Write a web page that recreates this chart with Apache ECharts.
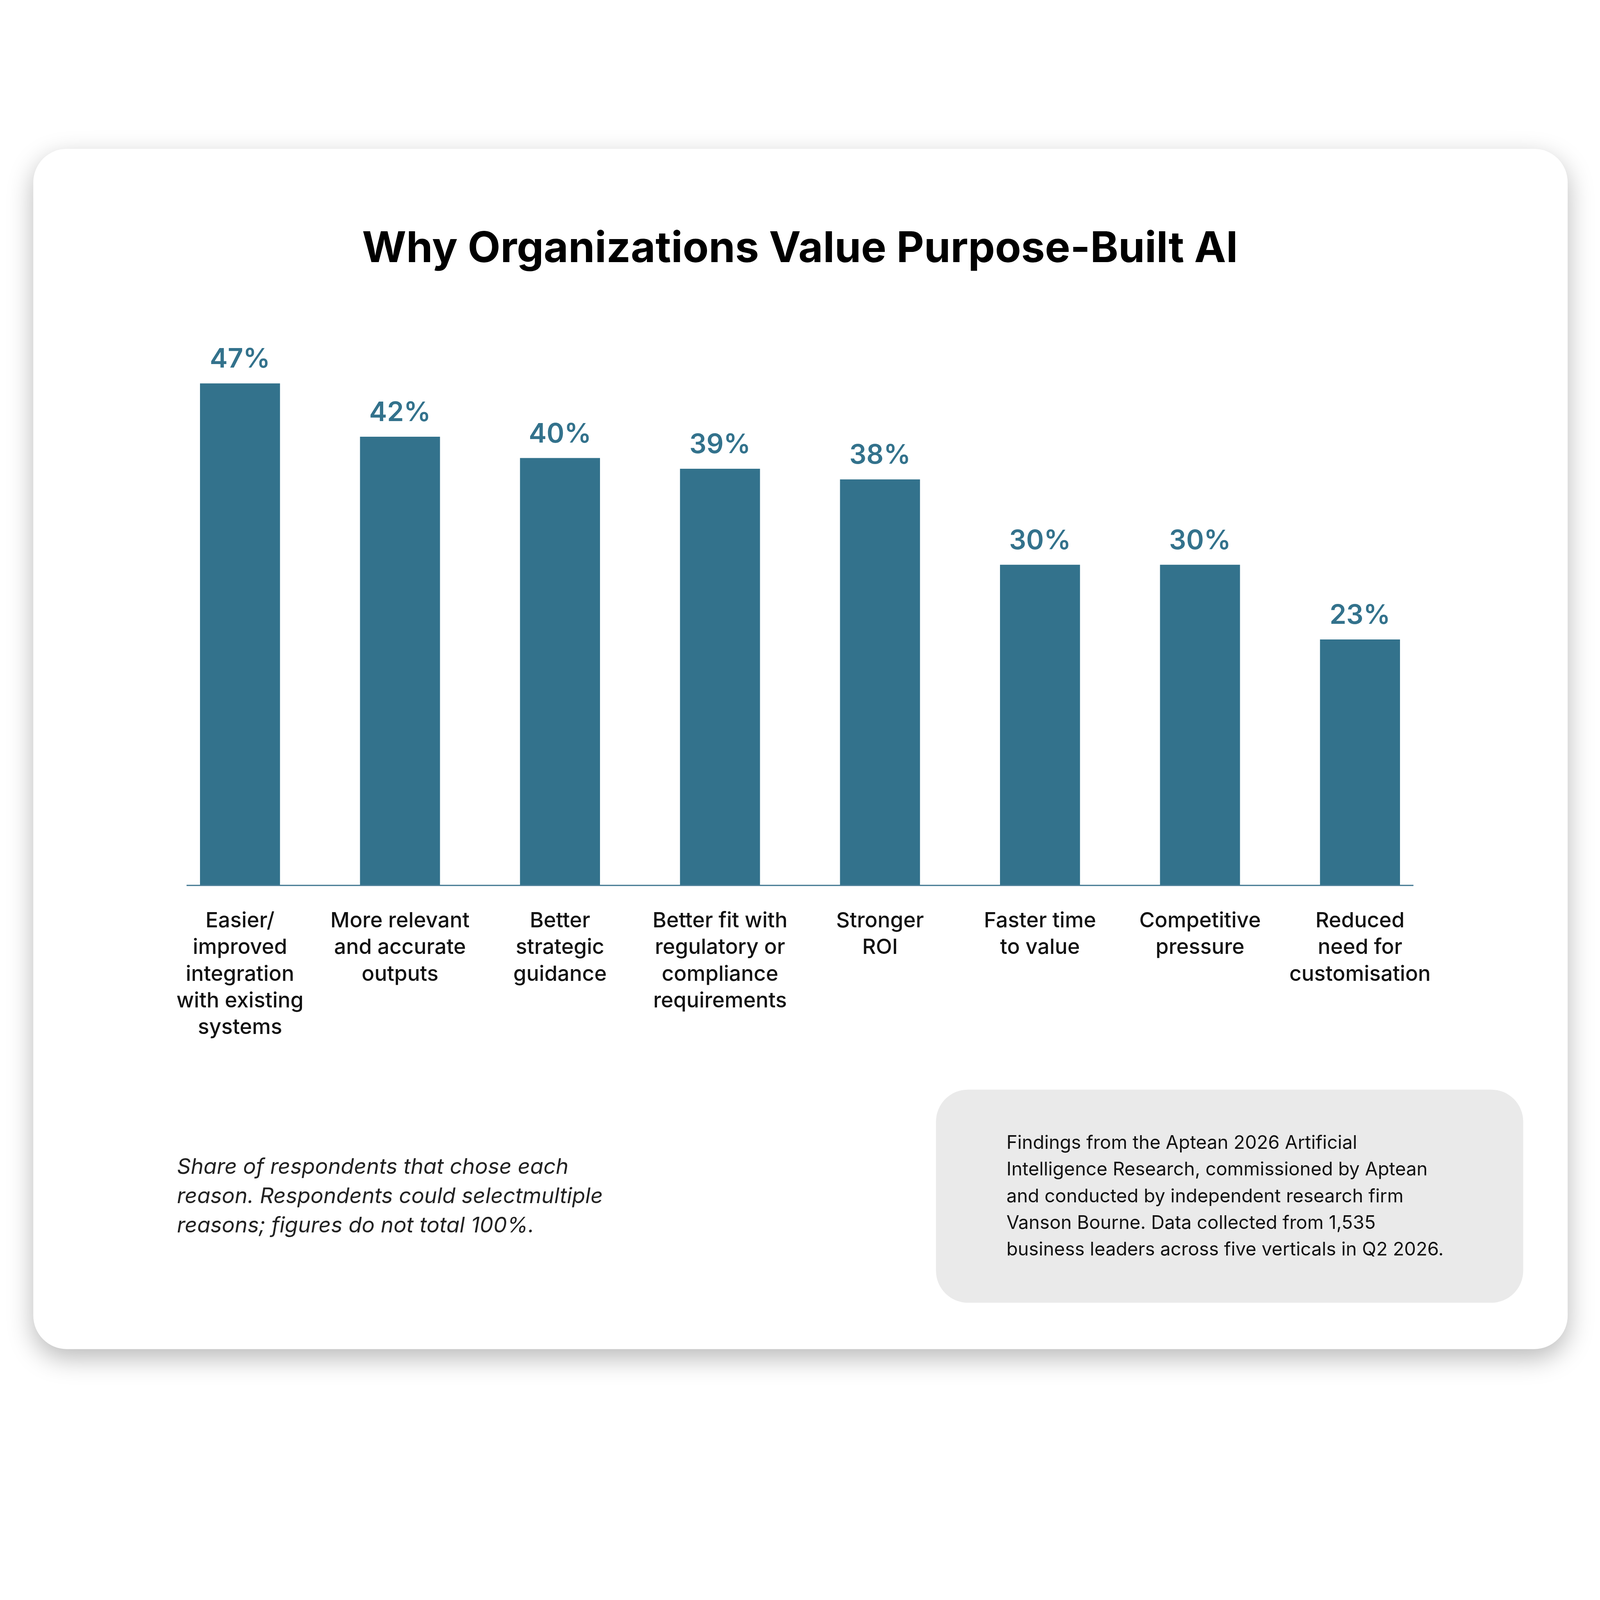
<!DOCTYPE html>
<html>
<head>
    <meta charset="utf-8">
    <title>Why Organizations Value Purpose-Built AI</title>
    <script src="https://cdn.jsdelivr.net/npm/echarts@6/dist/echarts.min.js"></script>
    <style>
        html, body { margin: 0; padding: 0; background: #ffffff; overflow: hidden; }
        #chart { position: absolute; left: 0; top: 0; }
    </style>
</head>
<body>
<div id="chart"></div>
<script>
    // reasons (x axis) and share of respondents (%)
    var reasons = [
        'Easier/\nimproved\nintegration\nwith existing\nsystems',
        'More relevant\nand accurate\noutputs',
        'Better\nstrategic\nguidance',
        'Better fit with\nregulatory or\ncompliance\nrequirements',
        'Stronger\nROI',
        'Faster time\nto value',
        'Competitive\npressure',
        'Reduced\nneed for\ncustomisation'
    ];
    var shares = [47, 42, 40, 39, 38, 30, 30, 23];

    var titleText = 'Why Organizations Value Purpose-Built AI';
    var footnoteText = 'Share of respondents that chose each\nreason. Respondents could selectmultiple\nreasons; figures do not total 100%.';
    var sourceText = 'Findings from the Aptean 2026 Artificial\nIntelligence Research, commissioned by Aptean\nand conducted by independent research firm\nVanson Bourne. Data collected from 1,535\nbusiness leaders across five verticals in Q2 2026.';

    var barColor = '#33728c';
    var font = 'Inter, "Noto Sans", sans-serif';

    // layout is measured on a 5000px square; scale it to the real viewport
    var size = Math.min(window.innerWidth, window.innerHeight) || 5000;
    var s = size / 5000;
    function px(v) { return v * s; }

    var el = document.getElementById('chart');
    el.style.width = size + 'px';
    el.style.height = size + 'px';

    var option = {
        animation: false,
        backgroundColor: '#ffffff',
        title: {
            text: titleText,
            left: 'center',
            top: px(712),
            padding: 0,
            textStyle: {
                fontFamily: font,
                fontSize: px(133),
                lineHeight: px(133),
                fontWeight: 700,
                color: '#000000'
            }
        },
        grid: {
            left: px(500),
            right: px(500),
            top: px(1098),
            bottom: px(2235),
            containLabel: false
        },
        xAxis: {
            type: 'category',
            data: reasons,
            axisLine: { show: false },
            axisTick: { show: false },
            splitLine: { show: false },
            axisLabel: {
                interval: 0,
                margin: px(71),
                color: '#111111',
                fontFamily: font,
                fontSize: px(66),
                fontWeight: 500,
                lineHeight: px(83.5),
                align: 'center'
            }
        },
        yAxis: {
            type: 'value',
            min: 0,
            max: 50,
            show: false,
            splitLine: { show: false }
        },
        series: [{
            type: 'bar',
            data: shares,
            barWidth: px(250),
            itemStyle: { color: barColor },
            emphasis: { disabled: true },
            label: {
                show: true,
                position: 'top',
                distance: px(32),
                formatter: '{c}%',
                color: barColor,
                fontFamily: font,
                fontSize: px(84),
                lineHeight: px(84),
                fontWeight: 600
            }
        }],
        graphic: [
            {
                // card
                type: 'rect',
                z: -10,
                shape: { x: px(104), y: px(465), width: px(4795), height: px(3751), r: px(105) },
                style: {
                    fill: '#ffffff',
                    shadowBlur: px(80),
                    shadowOffsetY: px(28),
                    shadowColor: 'rgba(0, 0, 0, 0.28)'
                }
            },
            {
                // baseline
                type: 'line',
                z: 5,
                shape: { x1: px(583), y1: px(2767), x2: px(4417), y2: px(2767) },
                style: { stroke: '#4a7d96', lineWidth: px(4) }
            },
            {
                type: 'text',
                x: px(553),
                y: px(3602),
                style: {
                    text: footnoteText,
                    fill: '#222222',
                    font: 'italic 400 ' + px(67.5) + 'px ' + font,
                    lineHeight: px(91.5),
                    align: 'left',
                    verticalAlign: 'top'
                }
            },
            {
                // source box
                type: 'rect',
                z: -5,
                shape: { x: px(2925), y: px(3405), width: px(1835), height: px(666), r: px(100) },
                style: { fill: '#eaeaea' }
            },
            {
                type: 'text',
                x: px(3145),
                y: px(3531),
                style: {
                    text: sourceText,
                    fill: '#111111',
                    font: '400 ' + px(58.2) + 'px ' + font,
                    lineHeight: px(83.3),
                    align: 'left',
                    verticalAlign: 'top'
                }
            }
        ]
    };

    var chart = echarts.init(el);
    chart.setOption(option);
</script>
</body>
</html>
